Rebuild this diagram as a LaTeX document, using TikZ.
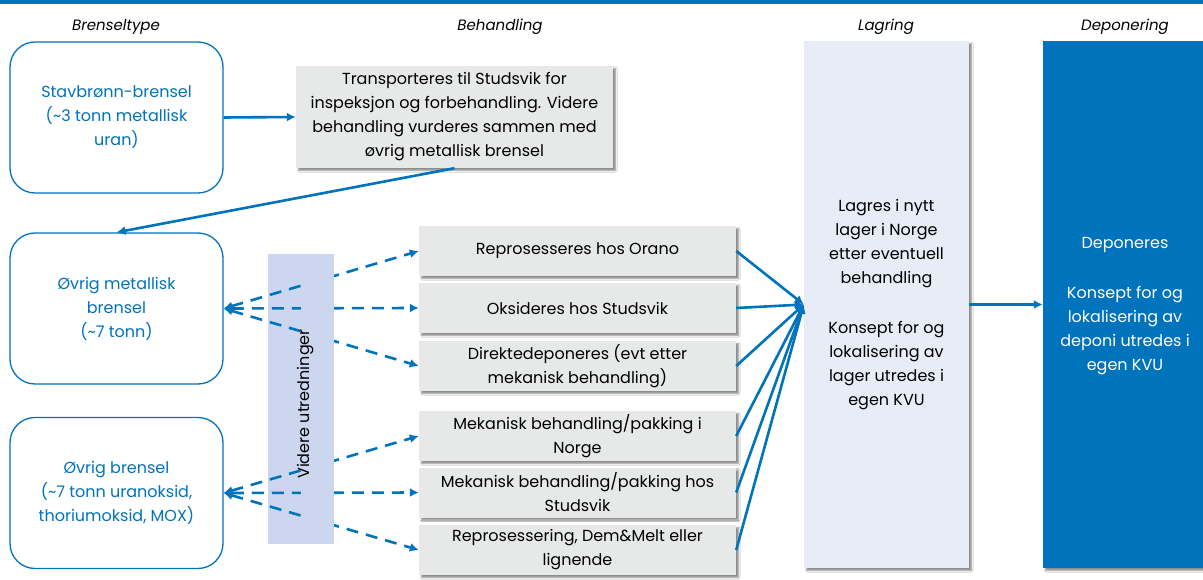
\documentclass[tikz,border=0pt]{standalone}
\usepackage{fontspec}
\setmainfont{Poppins}
\usetikzlibrary{arrows.meta,shadows.blur,calc}
\definecolor{nblue}{RGB}{0,115,189}
\definecolor{boxgray}{RGB}{231,232,232}
\definecolor{storefill}{RGB}{232,236,247}
\definecolor{studyfill}{RGB}{205,214,239}
\begin{document}
\begin{tikzpicture}[x=1pt,y=-1pt,
  txt/.style={font=\fontsize{16}{24}\selectfont, align=center},
  header/.style={font=\fontsize{15}{18}\selectfont\itshape, anchor=base},
  fuelbox/.style={txt, draw=nblue, line width=1.3pt, rounded corners=25pt, fill=white,
    text=nblue, minimum width=213pt, minimum height=151pt, inner sep=0pt},
  treatbox/.style={txt, fill=boxgray, minimum width=317pt, inner sep=0pt,
    blur shadow={shadow xshift=2.5pt, shadow yshift=-2.5pt, shadow blur radius=1.5pt, shadow opacity=45}},
  flow/.style={draw=nblue, line width=2.6pt, -{Latex[length=9pt,width=9pt]}},
  option/.style={draw=nblue, line width=2.6pt, dash pattern=on 12pt off 8pt,
    {Latex[length=9pt,width=9pt]}-{Latex[length=9pt,width=9pt]}}
]
\useasboundingbox (0,0) rectangle (1203,580);
\fill[white] (0,0) rectangle (1203,580);
% top rule
\fill[nblue] (0,0) rectangle (1203,4);

% column headings
\node[header] (hfuel)  at (116,31)  {Brenseltype};
\node[header] (htreat) at (500,31)  {Behandling};
\node[header] (hstore) at (886,31)  {Lagring};
\node[header] (hdepo)  at (1125,31) {Deponering};

% fuel types
\node[fuelbox] (stav)  at (116.5,117.5) {Stavbrønn-brensel\\(\textasciitilde3 tonn metallisk\\uran)};
\node[fuelbox] (metal) at (116.5,308.5) {Øvrig metallisk\\brensel\\(\textasciitilde7 tonn)};
\node[fuelbox] (other) at (116.5,493)   {Øvrig brensel\\(\textasciitilde7 tonn uranoksid,\\thoriumoksid, MOX)};

% first treatment step for the rod fuel
\node[treatbox, minimum height=102pt] (trans) at (454.5,117)
  {Transporteres til Studsvik for\\inspeksjon og forbehandling. Videre\\behandling vurderes sammen med\\øvrig metallisk brensel};

% treatment options
\node[treatbox, minimum height=50pt] (orano) at (577.5,251)   {Reprosesseres hos Orano};
\node[treatbox, minimum height=50pt] (oksid) at (577.5,308)   {Oksideres hos Studsvik};
\node[treatbox, minimum height=50pt] (direk) at (577.5,366)   {Direktedeponeres (evt etter\\mekanisk behandling)};
\node[treatbox, minimum height=50pt] (meknor) at (577.5,436)  {Mekanisk behandling/pakking i\\Norge};
\node[treatbox, minimum height=50pt] (mekstu) at (577.5,492.5){Mekanisk behandling/pakking hos\\Studsvik};
\node[treatbox, minimum height=50pt] (repro) at (577.5,550)   {Reprosessering, Dem\&Melt eller\\lignende};

% storage and disposal
\node[txt, fill=storefill, minimum width=165pt, minimum height=527pt, inner sep=0pt,
  blur shadow={shadow xshift=2.5pt, shadow yshift=-2.5pt, shadow blur radius=1.5pt, shadow opacity=45}]
  (store) at (886.5,304.5)
  {Lagres i nytt\\lager i Norge\\etter eventuell\\behandling\\[26pt]Konsept for og\\lokalisering av\\lager utredes i\\egen KVU};
\node[txt, fill=nblue, text=white, minimum width=162pt, minimum height=527pt, inner sep=0pt,
  blur shadow={shadow xshift=2.5pt, shadow yshift=-2.5pt, shadow blur radius=1.5pt, shadow opacity=45}]
  (depo) at (1124,304.5) {};
\node[txt, text=white] (depotxt) at (1125,306)
  {Deponeres\\[26pt]Konsept for og\\lokalisering av\\deponi utredes i\\egen KVU};

% band for further studies, lying under the dashed options
\fill[studyfill] (268,254) rectangle (334,544);
\coordinate (studytop) at (301,254);

% dashed options
\draw[option] (metal.east) -- (orano.west);
\draw[option] (metal.east) -- (oksid.west);
\draw[option] (metal.east) -- (direk.west);
\draw[option] (other.east) -- (meknor.west);
\draw[option] (other.east) -- (mekstu.west);
\draw[option] (other.east) -- (repro.west);

% upper part of the band covers the dashes
\fill[studyfill] (studytop) rectangle (334,544);
\node[txt, rotate=90] (study) at (306,404) {Videre utredninger};

% solid flows
\draw[flow] (stav.east) -- (trans.west);
\draw[flow] (trans.south) -- (metal.north);
\foreach \n in {orano,oksid,direk,meknor,mekstu,repro}
  \draw[flow] (\n.east) -- (store.west);
\draw[flow] (store.east) -- (depo.west);
\end{tikzpicture}
\end{document}
